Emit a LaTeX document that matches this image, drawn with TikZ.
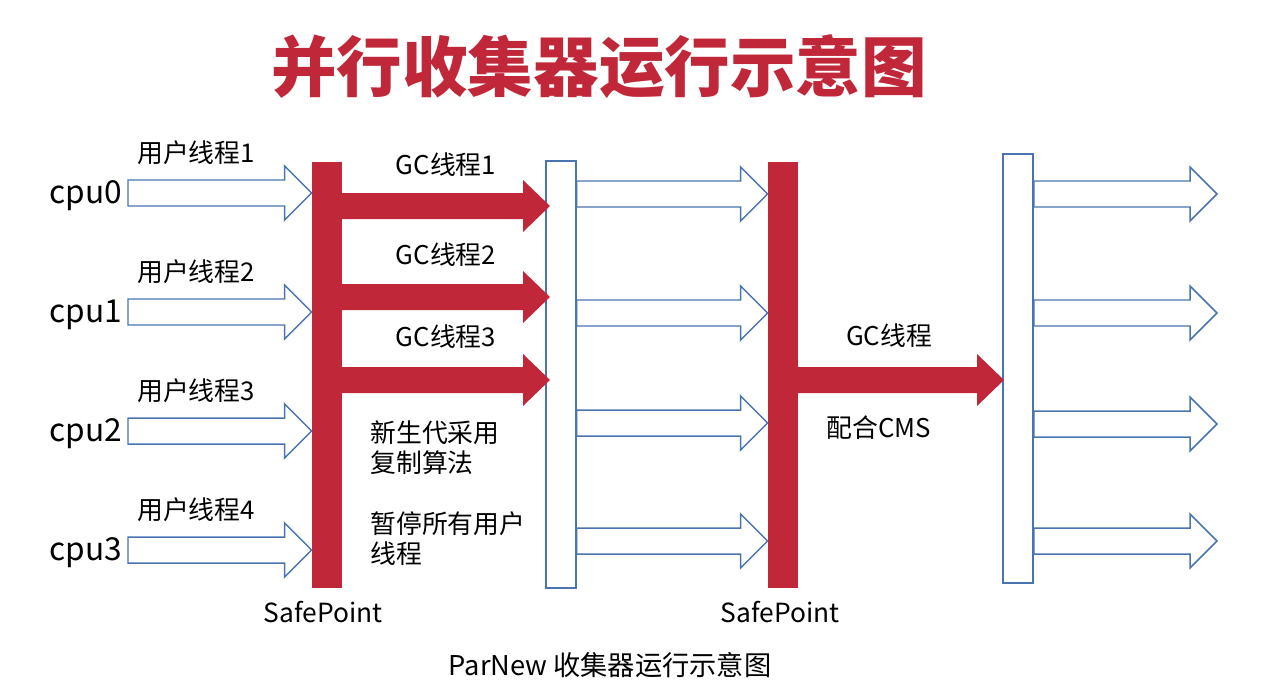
\documentclass[tikz,border=0pt]{standalone}
\usepackage{fontspec}
\setmainfont{Noto Sans CJK SC}
\definecolor{gcred}{HTML}{C0283A}
\definecolor{thblue}{HTML}{4A74B0}
\usetikzlibrary{calc}

\begin{document}
\begin{tikzpicture}[x=0.02cm, y=-0.02cm,
  redbar/.style={fill=gcred, draw=none, minimum width=0.6cm, inner sep=0pt},
  bluebar/.style={fill=white, draw=thblue, line width=0.85pt, minimum width=0.6cm, inner sep=0pt},
  hollow/.style={draw=thblue, fill=white, line width=0.85pt, line join=miter, to path={
    ($(\tikztostart)+(0,-13)$) -- ($(\tikztotarget)+(-27,-13)$) -- ($(\tikztotarget)+(-27,-27)$)
    -- (\tikztotarget) -- ($(\tikztotarget)+(-27,27)$) -- ($(\tikztotarget)+(-27,13)$)
    -- ($(\tikztostart)+(0,13)$) -- cycle}},
  solid/.style={fill=gcred, draw=none, to path={
    ($(\tikztostart)+(0,-13)$) -- ($(\tikztotarget)+(-27,-13)$) -- ($(\tikztotarget)+(-27,-26)$)
    -- (\tikztotarget) -- ($(\tikztotarget)+(-27,26)$) -- ($(\tikztotarget)+(-27,13)$)
    -- ($(\tikztostart)+(0,13)$) -- cycle}},
  lbl/.style={font=\fontsize{14.7}{17}\selectfont, inner sep=0pt},
  cpu/.style={font=\fontsize{18}{20}\selectfont, inner sep=0pt, anchor=base},
  safe/.style={font=\fontsize{15}{18}\selectfont, inner sep=0pt, anchor=base},
]
\useasboundingbox (0,0) rectangle (1288,686);

% title
\node[font=\fontsize{37.3}{40}\selectfont\bfseries, text=gcred, inner sep=0pt] (title) at (599,67) {并行收集器运行示意图};

% safepoints and gc bars
\node[redbar, minimum height=8.52cm] (sp1) at (327,375) {};
\node[bluebar, minimum height=8.54cm] (gc1) at (561,374.5) {};
\node[redbar, minimum height=8.52cm] (sp2) at (783,375) {};
\node[bluebar, minimum height=8.58cm] (gc2) at (1018,368.5) {};

% user threads
\foreach \y [count=\i from 0] in {193,312,431,550} {
  \pgfmathtruncatemacro{\n}{\i+1}
  \coordinate (u\i) at (128,\y);
  \node[cpu] (cpu\i) at (86,\y+10) {cpu\i};
  \node[lbl] (ut\i) at (196,\y-40) {用户线程\n};
  \draw[hollow] (u\i) to (u\i -| sp1.west);
}

% gc threads
\foreach \y [count=\i] in {206,297,380} {
  \coordinate (r\i) at (336,\y);
  \coordinate (t\i) at (550,\y);
  \draw[solid] (r\i) to (t\i);
}
\node[lbl] (gt1) at (446,165) {GC线程1};
\node[lbl] (gt2) at (446,255) {GC线程2};
\node[lbl] (gt3) at (446,337) {GC线程3};

\node[lbl, anchor=west, align=left] (note1) at (370,447.5) {新生代采用\\复制算法};
\node[lbl, anchor=west, align=left] (note2) at (370,539) {暂停所有用户\\线程};

% user threads again
\foreach \y [count=\i from 0] in {194,313,423,541} {
  \coordinate (m\i) at (576,\y);
  \draw[hollow] (m\i -| gc1.east) to (m\i -| sp2.west);
}

% old gen gc
\coordinate (r4) at (792,380);
\coordinate (t4) at (1004,380);
\draw[solid] (r4) to (t4);
\node[lbl] (gt4) at (889,336) {GC线程};
\node[lbl] (cms) at (879,428) {配合CMS};

% resume
\foreach \y [count=\i from 0] in {194,313,424,541} {
  \coordinate (e\i) at (1217,\y);
  \draw[hollow] (e\i -| gc2.east) to (e\i);
}

\node[safe] (sl1) at (323,622) {SafePoint};
\node[safe] (sl2) at (780,622) {SafePoint};
\node[font=\fontsize{15.5}{18}\selectfont, inner sep=0pt] (cap) at (610,665) {ParNew 收集器运行示意图};
\end{tikzpicture}
\end{document}
